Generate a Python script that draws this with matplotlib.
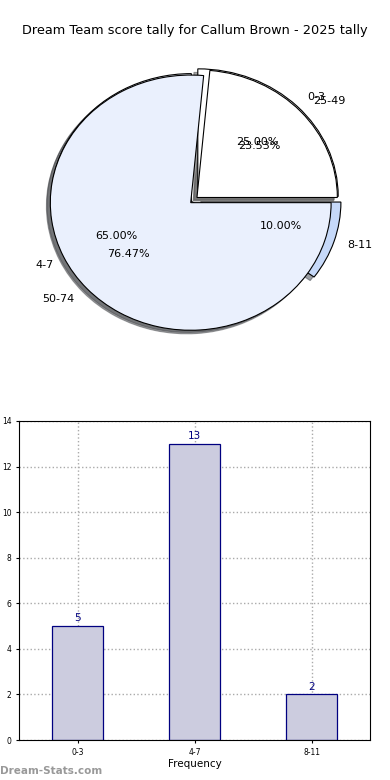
import matplotlib
matplotlib.use('Agg')
import matplotlib.pyplot as plt

title = 'Dream Team score tally for Callum Brown - 2025 tally'

score_labels = ['0-3', '4-7', '8-11']
score_pcts = [25.0, 65.0, 10.0]
score_colors = ['#ffffff', '#eaf0fd', '#c6d9f9']

tally_labels = ['25-49', '50-74']
tally_pcts = [23.53, 76.47]
tally_colors = ['#ffffff', '#eaf0fd']

freq_labels = ['0-3', '4-7', '8-11']
freq_counts = [5, 13, 2]

fig = plt.figure(figsize=(3.9, 7.8), dpi=100)
fig.text(0.5, 0.961, title, ha='center', va='center', fontsize=9.3)

# pies (score bands underneath, tally bands on top)
ax1 = fig.add_axes([0.047, 0.539, 0.900, 0.409])
ax1.pie(score_pcts, labels=score_labels, colors=score_colors, explode=[0.04, 0.02, 0.05],
        autopct='%1.2f%%', shadow=True, startangle=0,
        wedgeprops={'edgecolor': 'black', 'linewidth': 0.8},
        textprops={'fontsize': 8})
ax1.pie(tally_pcts, labels=tally_labels, colors=tally_colors, explode=[0.03, 0.03],
        autopct='%1.2f%%', shadow=True, startangle=0, labeldistance=1.12,
        wedgeprops={'edgecolor': 'black', 'linewidth': 0.8},
        textprops={'fontsize': 8})
ax1.set_aspect('auto')
ax1.set_xlim(-1.25, 1.25)
ax1.set_ylim(-1.25, 1.25)

# frequency bars
ax2 = fig.add_axes([19 / 390, 40 / 780, 351 / 390, 319 / 780])
x = list(range(len(freq_labels)))
bars = ax2.bar(x, freq_counts, width=0.44, color='#ccccdf', edgecolor='#000080', linewidth=0.9, zorder=2)
for b, v in zip(bars, freq_counts):
    ax2.text(b.get_x() + b.get_width() / 2, v + 0.12, str(v), ha='center', va='bottom',
             fontsize=7.5, color='#000080')
ax2.set_xticks(x)
ax2.set_xticklabels(freq_labels)
ax2.set_xlim(-0.5, 2.5)
ax2.set_ylim(0, 14)
ax2.set_yticks(range(0, 15, 2))
ax2.tick_params(labelsize=5.5, length=2)
ax2.grid(True, linestyle=':', color='#aaaaaa', linewidth=1)
ax2.set_axisbelow(True)
ax2.set_xlabel('Frequency', fontsize=7.5, labelpad=2)
ax2.set_ylabel('Number of Games', fontsize=6, labelpad=10)

fig.text(0.0, 0.012, 'Dream-Stats.com', fontsize=7.5, color='#999999', fontweight='bold',
         ha='left', va='center')

fig.savefig('out.png', dpi=100)
